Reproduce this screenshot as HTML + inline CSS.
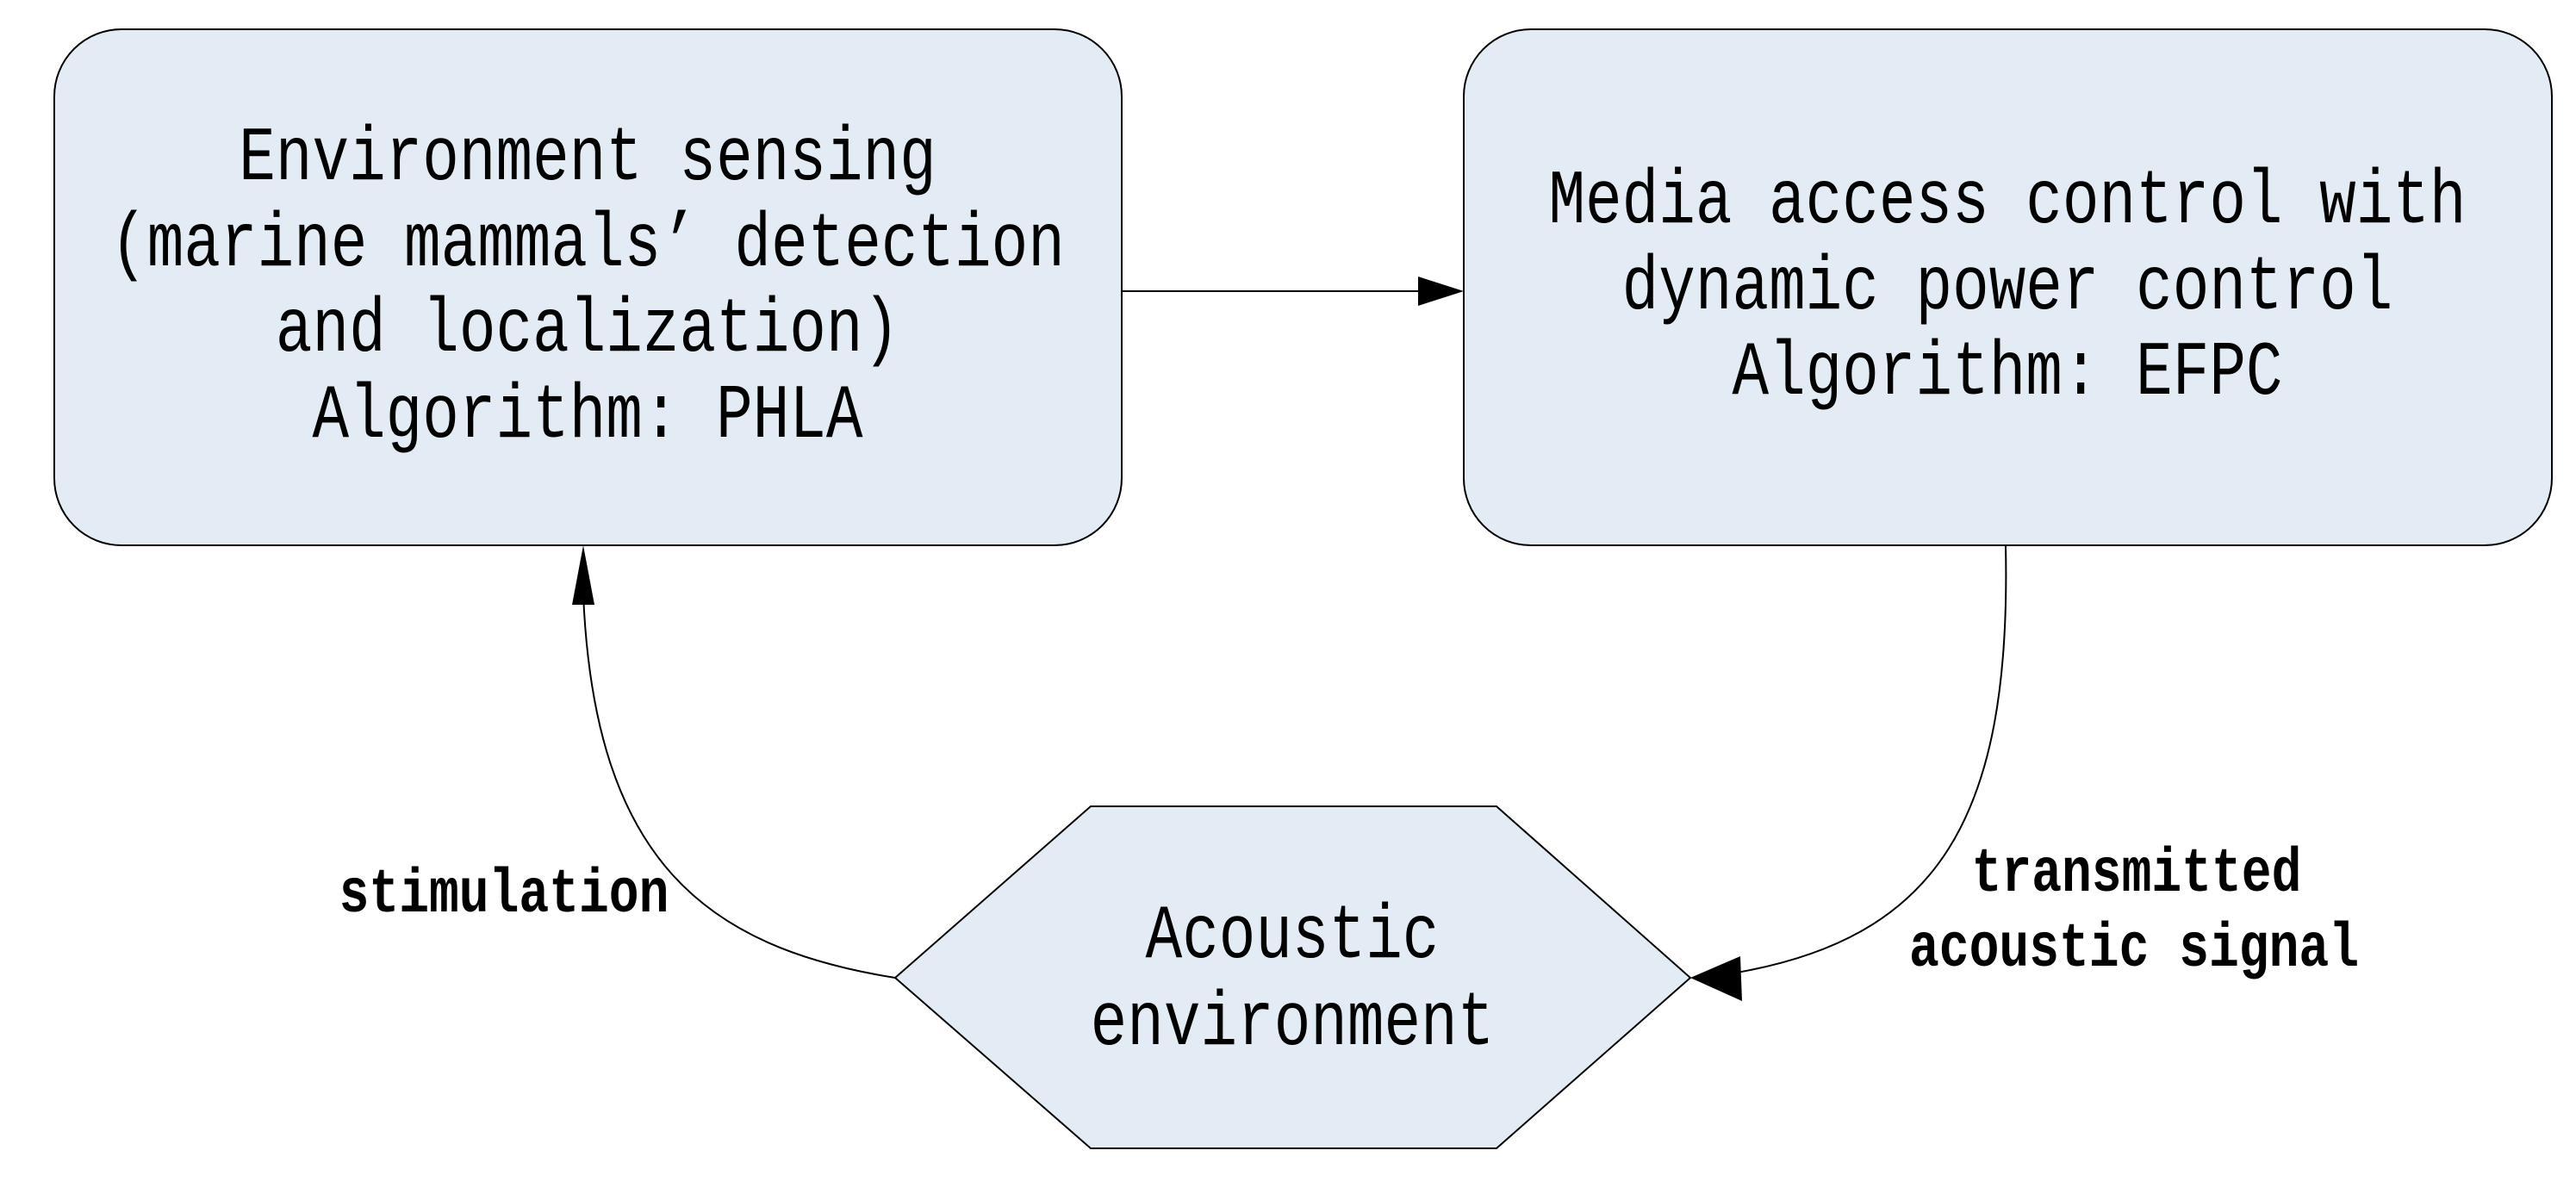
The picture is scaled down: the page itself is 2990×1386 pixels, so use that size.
<!DOCTYPE html>
<html><head><meta charset="utf-8"><style>
html,body{margin:0;padding:0;background:#fff;}
svg{display:block;}
text{font-family:"Liberation Mono",monospace;fill:#000;}
</style></head><body>
<svg width="2990" height="1386" viewBox="0 0 2990 1386">
<rect x="63" y="34" width="1239" height="599" rx="78" ry="78" fill="#e3ebf5" stroke="#000" stroke-width="2"/>
<rect x="1699" y="34" width="1263" height="599" rx="78" ry="78" fill="#e3ebf5" stroke="#000" stroke-width="2"/>
<polygon points="1266,936 1737,936 1962,1135 1737,1333 1266,1333 1039,1135" fill="#e3ebf5" stroke="#000" stroke-width="2"/>
<line x1="1302" y1="338" x2="1650" y2="338" stroke="#000" stroke-width="2"/>
<polygon points="1699,338 1646,321 1646,355" fill="#000"/>
<path d="M1039,1135 C820,1100 690,1000 677,690" fill="none" stroke="#000" stroke-width="2"/>
<polygon points="677,633 664,702 690,702" fill="#000"/>
<path d="M2328,633 C2335,950 2250,1090 2010,1130" fill="none" stroke="#000" stroke-width="2"/>
<polygon points="1962,1135 2020,1110 2022,1162" fill="#000"/>
<g font-size="71" text-anchor="middle">
<text transform="translate(682,208) scale(1,1.25)">Environment sensing</text>
<text transform="translate(682,308) scale(1,1.25)">(marine mammals’ detection</text>
<text transform="translate(682,407) scale(1,1.25)">and localization)</text>
<text transform="translate(682,507) scale(1,1.25)">Algorithm: PHLA</text>
<text transform="translate(2330,258) scale(1,1.25)">Media access control with</text>
<text transform="translate(2330,358) scale(1,1.25)">dynamic power control</text>
<text transform="translate(2330,457) scale(1,1.25)">Algorithm: EFPC</text>
<text transform="translate(1500,1111) scale(1,1.25)">Acoustic</text>
<text transform="translate(1500,1212) scale(1,1.25)">environment</text>
</g>
<g font-size="58" font-weight="bold" text-anchor="middle">
<text transform="translate(585,1058) scale(1,1.25)">stimulation</text>
<text transform="translate(2480,1034) scale(1,1.25)">transmitted</text>
<text transform="translate(2477,1121) scale(1,1.25)">acoustic signal</text>
</g>
</svg>
</body></html>
